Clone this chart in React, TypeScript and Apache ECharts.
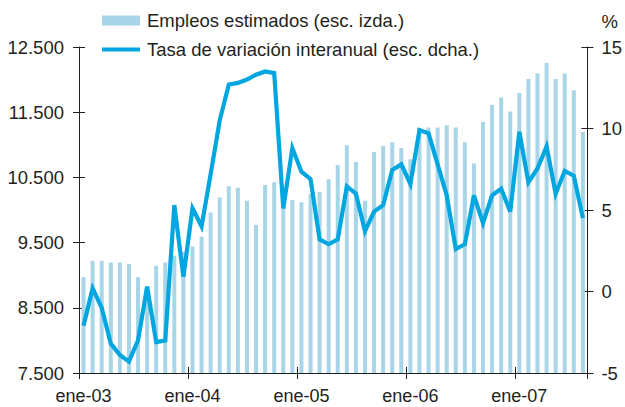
import React, { useEffect, useRef } from "react";
import * as echarts from "echarts";

const monthNames = ["ene", "feb", "mar", "abr", "may", "jun", "jul", "ago", "sep", "oct", "nov", "dic"];
const yearSuffixes = ["03", "04", "05", "06", "07"];
const monthCount = 56;
const categories = yearSuffixes.flatMap((y) => monthNames.map((m) => `${m}-${y}`)).slice(0, monthCount);

const empleos = [
  8970, 9220, 9220, 9195, 9195, 9170, 8970, 8800, 9145, 9195, 9300, 9360,
  9440, 9590, 9960, 10190, 10365, 10340, 10140, 9770, 10385, 10425, 10200, 10155,
  10120, 10245, 10275, 10470, 10690, 10995, 10735, 10140, 10890, 10980, 11040, 10950,
  10780, 11250, 11265, 11265, 11300, 11265, 11040, 10715, 11350, 11615, 11725, 11510,
  11795, 12010, 12095, 12255, 12010, 12095, 11835, 11195,
];

const tasa = [
  -2.1, 0.2, -1.0, -3.2, -3.9, -4.3, -3.0, 0.3, -3.1, -3.0, 5.3, 0.9,
  5.1, 4.0, 7.2, 10.5, 12.7, 12.8, 13.0, 13.3, 13.5, 13.4, 5.1, 8.8,
  7.35, 6.9, 3.2, 2.9, 3.2, 6.45, 6.0, 3.7, 4.9, 5.3, 7.45, 7.8,
  6.6, 9.9, 9.7, 7.8, 5.9, 2.6, 2.9, 5.9, 4.2, 5.9, 6.3, 4.9,
  9.8, 6.7, 7.55, 8.9, 6.0, 7.4, 7.1, 4.5,
];

const seriesNames = ["Empleos estimados (esc. izda.)", "Tasa de variación interanual (esc. dcha.)"];
const leftAxis = { min: 7500, max: 12500, interval: 1000 };
const rightAxis = { min: -5, max: 15, interval: 5, name: "%" };

const FONT = "'Liberation Sans', Arial, Helvetica, sans-serif";
const TEXT = "#231f20";
const AXIS = "#231f20";
const BAR = "#a8d5e8";
const LINE = "#00a6e0";

const fmtThousands = (v: number) => {
  const s = String(Math.round(v));
  return s.replace(/\B(?=(\d{3})+(?!\d))/g, ".");
};

export default function App() {
  const ref = useRef<HTMLDivElement>(null);
  useEffect(() => {
    if (!ref.current) return;
    const chart = echarts.init(ref.current, undefined, { renderer: "svg" });
    const axisLine = { show: true, onZero: false, lineStyle: { color: AXIS, width: 1 } };
    const labelStyle = { color: TEXT, fontSize: 18.5, fontFamily: FONT };
    chart.setOption({
      animation: false,
      backgroundColor: "#ffffff",
      textStyle: { fontFamily: FONT },
      grid: { left: 79, right: 37, top: 47, bottom: 34, containLabel: false },
      legend: [
        {
          data: [{ name: seriesNames[0], icon: "rect" }],
          left: 102,
          top: 11,
          padding: 0,
          itemWidth: 38,
          itemHeight: 10,
          itemGap: 0,
          textStyle: { ...labelStyle, padding: [0, 0, 0, 2] },
        },
        {
          data: [{ name: seriesNames[1], icon: "rect" }],
          left: 102,
          top: 40,
          padding: 0,
          itemWidth: 38,
          itemHeight: 4,
          itemGap: 0,
          textStyle: { ...labelStyle, padding: [0, 0, 0, 2] },
        },
      ],
      xAxis: [
        {
          type: "category",
          data: categories,
          boundaryGap: true,
          position: "bottom",
          axisLine,
          axisTick: { show: true, interval: 11, length: 6, inside: false, lineStyle: { color: AXIS } },
          axisLabel: { ...labelStyle, fontSize: 18, interval: 11, margin: 14 },
          splitLine: { show: false },
        },
        {
          type: "category",
          data: categories,
          boundaryGap: true,
          position: "bottom",
          axisLine: { show: false, onZero: false },
          axisTick: { show: true, interval: 11, length: 6, inside: true, lineStyle: { color: AXIS } },
          axisLabel: { show: false },
          splitLine: { show: false },
        },
      ],
      yAxis: [
        {
          type: "value",
          position: "left",
          min: leftAxis.min,
          max: leftAxis.max,
          interval: leftAxis.interval,
          axisLine,
          axisTick: { show: true, length: 6, inside: false, lineStyle: { color: AXIS } },
          axisLabel: { ...labelStyle, margin: 15, formatter: (v: number) => fmtThousands(v) },
          splitLine: { show: false },
        },
        {
          type: "value",
          position: "right",
          min: rightAxis.min,
          max: rightAxis.max,
          interval: rightAxis.interval,
          name: rightAxis.name,
          nameLocation: "end",
          nameGap: 16,
          nameTextStyle: { ...labelStyle, align: "left", padding: [0, 0, 0, 14] },
          axisLine,
          axisTick: { show: true, length: 6, inside: false, lineStyle: { color: AXIS } },
          axisLabel: { ...labelStyle, margin: 14 },
          splitLine: { show: false },
        },
        {
          type: "value",
          position: "left",
          min: leftAxis.min,
          max: leftAxis.max,
          interval: leftAxis.interval,
          axisLine: { show: false, onZero: false },
          axisTick: { show: true, length: 6, inside: true, lineStyle: { color: AXIS } },
          axisLabel: { show: false },
          splitLine: { show: false },
        },
        {
          type: "value",
          position: "right",
          min: rightAxis.min,
          max: rightAxis.max,
          interval: rightAxis.interval,
          axisLine: { show: false, onZero: false },
          axisTick: { show: true, length: 6, inside: true, lineStyle: { color: AXIS } },
          axisLabel: { show: false },
          splitLine: { show: false },
        },
      ],
      series: [
        {
          name: seriesNames[0],
          type: "bar",
          xAxisIndex: 0,
          yAxisIndex: 0,
          data: empleos,
          barWidth: 4,
          itemStyle: { color: BAR },
          z: 1,
        },
        {
          name: seriesNames[1],
          type: "line",
          xAxisIndex: 0,
          yAxisIndex: 1,
          data: tasa,
          symbol: "none",
          showSymbol: false,
          lineStyle: { color: LINE, width: 4.2, join: "miter" },
          itemStyle: { color: LINE },
          z: 3,
        },
      ],
    });
    return () => chart.dispose();
  }, []);
  return (
    <div
      ref={ref}
      style={{ position: "fixed", left: 0, top: 0, width: 625, height: 407, background: "#fff" }}
    />
  );
}
